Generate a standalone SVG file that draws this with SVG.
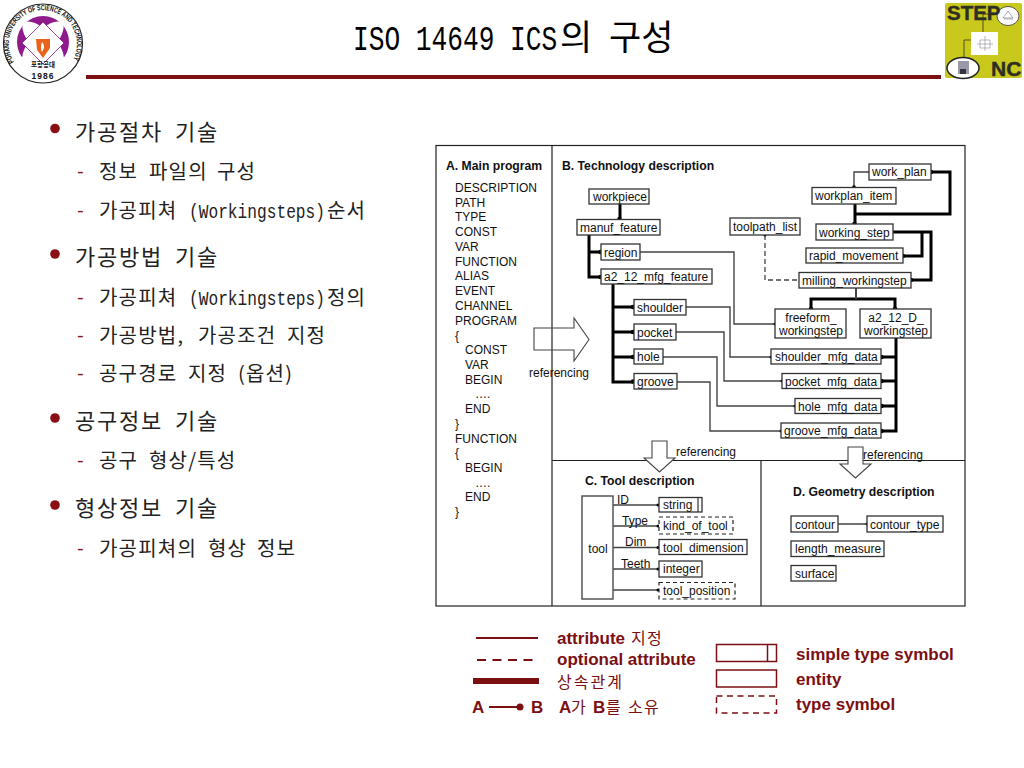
<svg xmlns="http://www.w3.org/2000/svg" xmlns:xlink="http://www.w3.org/1999/xlink" width="1024" height="768" viewBox="0 0 1024 768">
<style>
text{font-family:"Liberation Sans",Arial,sans-serif;fill:#111}
.b{fill:#fff;stroke:#333;stroke-width:1.3}
.d{fill:#fff;stroke:#222;stroke-width:1.2;stroke-dasharray:4 3}
.t{font-size:12px}
.h{font-size:12.2px;font-weight:bold}
.n{fill:none;stroke:#222;stroke-width:1.2}
.g{fill:none;stroke:#444;stroke-width:1.4}
.k{fill:none;stroke:#000;stroke-width:3}
.ds{fill:none;stroke:#444;stroke-width:1.3;stroke-dasharray:5 3}
.o{fill:#000}
.f{fill:none;stroke:#222;stroke-width:1.2}
.ar{fill:#fff;stroke:#444;stroke-width:1.1}
.l1{font-family:"Noto Sans CJK KR",sans-serif;font-size:22px;letter-spacing:1.76px;fill:#222}
.l2{font-family:"Noto Sans CJK KR",sans-serif;font-size:20px;letter-spacing:1.2px;fill:#222}
.m{font-family:"Liberation Mono",monospace;font-size:20px;fill:#222}
.dash{font-family:"Liberation Mono",monospace;font-size:18px;fill:#8a1a1a}
.r{fill:#7b0f12}
.lg{font-size:17px;font-weight:bold;fill:#7b0f12;font-family:"Liberation Sans","Noto Sans CJK KR",sans-serif}
.kr{font-family:"Noto Sans CJK KR",sans-serif;font-weight:normal;font-size:16px;letter-spacing:1.4px}
.ls{fill:#fff;stroke:#7b0f12;stroke-width:1.5}
</style>

<g id="logo-postech">
<circle cx="43" cy="43.500" r="39.500" fill="#fff" stroke="#222" stroke-width="1.200"/>
<circle cx="43" cy="42" r="26" fill="#8e1a8c"/>
<ellipse cx="43" cy="42" rx="27" ry="11" fill="#fff" transform="rotate(45 43 42)"/>
<ellipse cx="43" cy="42" rx="27" ry="11" fill="#fff" transform="rotate(-45 43 42)"/>
<path d="M43 42L18 60Q43 76 68 60Z" fill="#fff"/>
<path d="M43 22L64 43L43 64L22 43Z" fill="#fff" stroke="#8e1a8c" stroke-width="0.800"/>
<path d="M36 39H50V48L43 58L37 50Z" fill="#e8641c"/>
<path d="M42 42Q46 46 42 52Q40 47 42 42Z" fill="#fff"/>
<path id="lp" d="M14 62A34 34 0 1 1 73 60" fill="none"/>
<text font-size="7.500" font-weight="bold"><textPath xlink:href="#lp" href="#lp" textLength="141" lengthAdjust="spacingAndGlyphs">POHANG UNIVERSITY OF SCIENCE AND TECHNOLOGY</textPath></text>
<text x="43" y="67" font-size="6.500" font-weight="bold" text-anchor="middle" style="font-family:'Noto Sans CJK KR',sans-serif">포항공대</text>
<text x="43" y="79" font-size="8.500" font-weight="bold" text-anchor="middle" letter-spacing="1">1986</text>
</g>

<g id="logo-stepnc">
<rect x="945" y="3" width="77" height="75" rx="2" fill="#c9c81c"/>
<path d="M983 14H1000M983 14V32M971 40H964V58" fill="none" stroke="#55501a" stroke-width="1"/>
<ellipse cx="1008" cy="16" rx="11" ry="9.500" fill="#fff" stroke="#333" stroke-width="0.800"/>
<path d="M1003 18L1008 11L1013 18ZM1004 19H1013" fill="none" stroke="#889" stroke-width="0.700"/>
<rect x="971" y="32" width="27" height="23" fill="#fff"/>
<path d="M977 44H993M985 36V51M980 40H990V48H980Z" fill="none" stroke="#889" stroke-width="0.600"/>
<ellipse cx="963" cy="68" rx="16" ry="10.500" fill="#fff" stroke="#222" stroke-width="1.500"/>
<rect x="958" y="61" width="11" height="13" fill="#99a"/>
<rect x="960" y="69" width="6" height="5" fill="#334"/>
<text x="947" y="20" font-size="20.500" font-weight="bold" style="fill:#2e2e22;stroke:#2e2e22;stroke-width:0.400">STEP</text>
<text x="991" y="76" font-size="21" font-weight="bold" style="fill:#2e2e22;stroke:#2e2e22;stroke-width:0.400">NC</text>
</g>

<g id="title">
<rect x="86" y="75" width="855" height="4" class="r"/>
<text class="m" transform="translate(353 50) scale(.727 1)" style="font-size:36px;fill:#000">ISO 14649 ICS</text>
<text y="50" style="font-family:'Noto Sans CJK KR',sans-serif;font-size:35px;letter-spacing:0;fill:#000"><tspan x="560">의</tspan><tspan x="609">구성</tspan></text>
</g>

<g id="outline">
<circle cx="55" cy="128.500" r="4.800" fill="#8a0f14"/>
<text class="l1" y="140"><tspan x="75">가공절차</tspan><tspan x="175">기술</tspan></text>
<text class="dash" x="75" y="178">-</text>
<text class="l2" y="179"><tspan x="99">정보</tspan><tspan x="149">파일의</tspan><tspan x="217">구성</tspan></text>
<text class="dash" x="75" y="217">-</text>
<text class="l2" x="99" y="218">가공피쳐</text>
<text class="m" transform="translate(189 218) scale(.81 1)">(Workingsteps)</text>
<text class="l2" x="327" y="218">순서</text>
<circle cx="55" cy="254" r="4.800" fill="#8a0f14"/>
<text class="l1" y="265"><tspan x="75">가공방법</tspan><tspan x="175">기술</tspan></text>
<text class="dash" x="75" y="304">-</text>
<text class="l2" x="99" y="305">가공피쳐</text>
<text class="m" transform="translate(189 305) scale(.81 1)">(Workingsteps)</text>
<text class="l2" x="327" y="305">정의</text>
<text class="dash" x="75" y="342">-</text>
<text class="l2" y="343"><tspan x="99">가공방법,</tspan><tspan x="198">가공조건</tspan><tspan x="287">지정</tspan></text>
<text class="dash" x="75" y="380">-</text>
<text class="l2" y="381"><tspan x="99">공구경로</tspan><tspan x="188">지정</tspan><tspan x="238">(옵션)</tspan></text>
<circle cx="55" cy="418" r="4.800" fill="#8a0f14"/>
<text class="l1" y="429"><tspan x="75">공구정보</tspan><tspan x="175">기술</tspan></text>
<text class="dash" x="75" y="467">-</text>
<text class="l2" y="468"><tspan x="99">공구</tspan><tspan x="149">형상/특성</tspan></text>
<circle cx="55" cy="505" r="4.800" fill="#8a0f14"/>
<text class="l1" y="516"><tspan x="75">형상정보</tspan><tspan x="175">기술</tspan></text>
<text class="dash" x="75" y="555">-</text>
<text class="l2" y="556"><tspan x="99">가공피쳐의</tspan><tspan x="208">형상</tspan><tspan x="257">정보</tspan></text>
</g>

<g id="frame">
<rect x="436" y="145.500" width="529" height="460.500" class="f" fill="none"/>
<path d="M552 145.500V606M552 460.500H965M761 460.500V606" class="f"/>
</g>

<g id="section-a">
<text class="h" x="446" y="170">A. Main program</text>
<g class="t">
<text x="455" y="192">DESCRIPTION</text>
<text x="455" y="207">PATH</text>
<text x="455" y="221">TYPE</text>
<text x="455" y="236">CONST</text>
<text x="455" y="251">VAR</text>
<text x="455" y="266">FUNCTION</text>
<text x="455" y="280">ALIAS</text>
<text x="455" y="295">EVENT</text>
<text x="455" y="310">CHANNEL</text>
<text x="455" y="325">PROGRAM</text>
<text x="455" y="340">{</text>
<text x="465" y="354">CONST</text>
<text x="465" y="369">VAR</text>
<text x="465" y="384">BEGIN</text>
<text x="475" y="398">….</text>
<text x="465" y="413">END</text>
<text x="455" y="428">}</text>
<text x="455" y="443">FUNCTION</text>
<text x="455" y="457">{</text>
<text x="465" y="472">BEGIN</text>
<text x="475" y="487">….</text>
<text x="465" y="501">END</text>
<text x="455" y="516">}</text>
</g>
</g>

<text class="h" x="562" y="170">B. Technology description</text>
<text class="h" x="585" y="485">C. Tool description</text>
<text class="h" x="793" y="496">D. Geometry description</text>

<g id="connectors">
<path class="k" d="M620 204V218M589 235V277H600M589 252H600M613 284V382H633M613 307H633M613 332H633M613 357H633"/>
<path class="g" d="M640 252H734V324H775M686 307H730V357H771M676 332H724V381H782M663 357H717V406H795M677 382H710V431H781M869 172H854V187"/>
<path class="k" d="M931 172H950V214H855M855 204V223M893 232H931V280H911M922 232V256H903M811 309V299H895V309M896 338V431H881M896 357H881M896 381H881M896 406H881"/>
<path class="g" style="stroke-width:2" d="M856 288V299"/>
<path class="ds" d="M765 235V280H799"/>
<path class="g" d="M613 505H658M613 526H658M613 547.500H658M613 569H658M613 590H658M838 524H867"/>
<g class="o">
<circle cx="619.500" cy="219" r="2.300"/><circle cx="600.500" cy="252" r="2.300"/><circle cx="600.500" cy="277" r="2.300"/>
<circle cx="633" cy="307" r="2.300"/><circle cx="633" cy="332" r="2.300"/><circle cx="633" cy="357" r="2.300"/><circle cx="633" cy="381.500" r="2.300"/>
<circle cx="854" cy="187" r="1.800"/><circle cx="931" cy="172" r="2.300"/><circle cx="854.500" cy="224" r="2.300"/><circle cx="903" cy="256" r="2.300"/><circle cx="911" cy="280" r="2.300"/>
<circle cx="811" cy="309" r="2.300"/><circle cx="895" cy="309" r="2.300"/><circle cx="765" cy="235" r="1.500"/>
<circle cx="775" cy="324" r="1.500"/><circle cx="771" cy="357" r="1.500"/><circle cx="782" cy="381" r="1.500"/><circle cx="795" cy="406" r="1.500"/><circle cx="781" cy="431" r="1.500"/>
<circle cx="881.500" cy="357" r="2.300"/><circle cx="881.500" cy="381" r="2.300"/><circle cx="881.500" cy="406" r="2.300"/><circle cx="881.500" cy="431" r="2.300"/>
<circle cx="658" cy="505" r="1.500"/><circle cx="658" cy="526" r="1.500"/><circle cx="658" cy="547.500" r="1.500"/><circle cx="658" cy="569" r="1.500"/><circle cx="658" cy="590" r="1.500"/><circle cx="867" cy="524" r="1.500"/>
</g>
</g>

<g id="arrows">
<path class="ar" d="M534 328H574V318L589 339.500L574 361V350H534Z" style="fill:none"/>
<path class="ar" d="M652 441H667V458H675L659.500 472L644 458H652Z"/>
<path class="ar" d="M848 447H863V464H871L855.500 478L840 464H848Z"/>
<text class="t" x="529" y="377">referencing</text>
<text class="t" x="676" y="456">referencing</text>
<text class="t" x="863" y="459">referencing</text>
</g>

<g id="workpiece"><rect class="b" x="589" y="189" width="60" height="15"/><text class="t" x="593" y="201">workpiece</text></g>
<g id="manuf_feature"><rect class="b" x="577" y="219.500" width="83" height="15.500"/><text class="t" x="580" y="232">manuf_feature</text></g>
<g id="region"><rect class="b" x="601" y="244" width="39" height="16"/><text class="t" x="604" y="257">region</text></g>
<g id="a2_12_mfg_feature"><rect class="b" x="601" y="269" width="111" height="15"/><text class="t" x="604" y="281">a2_12_mfg_feature</text></g>
<g id="toolpath_list"><rect class="b" x="730" y="218" width="70" height="17"/><text class="t" x="733" y="231">toolpath_list</text></g>
<g id="work_plan"><rect class="b" x="869" y="164" width="62" height="16"/><text class="t" x="872" y="176">work_plan</text></g>
<g id="workplan_item"><rect class="b" x="812" y="187.500" width="84" height="16.500"/><text class="t" x="815" y="200">workplan_item</text></g>
<g id="working_step"><rect class="b" x="816" y="224" width="77" height="16"/><text class="t" x="819" y="237">working_step</text></g>
<g id="rapid_movement"><rect class="b" x="806" y="248" width="97" height="15"/><text class="t" x="809" y="260">rapid_movement</text></g>
<g id="milling_workingstep"><rect class="b" x="799" y="272.500" width="112" height="15.500"/><text class="t" x="802" y="285">milling_workingstep</text></g>
<g id="shoulder"><rect class="b" x="634" y="299.500" width="52" height="15.500"/><text class="t" x="637" y="312">shoulder</text></g>
<g id="pocket"><rect class="b" x="634" y="324" width="42" height="16"/><text class="t" x="637" y="337">pocket</text></g>
<g id="hole"><rect class="b" x="634" y="349" width="29" height="15"/><text class="t" x="637" y="361">hole</text></g>
<g id="groove"><rect class="b" x="634" y="373.500" width="43" height="15.500"/><text class="t" x="637" y="386">groove</text></g>
<g id="freeform_workingstep"><rect class="b" x="775" y="309" width="71" height="29"/><text class="t" text-anchor="middle" x="811" y="322">freeform_</text><text class="t" text-anchor="middle" x="811" y="335">workingstep</text></g>
<g id="a2_12_D_workingstep"><rect class="b" x="860" y="309" width="71" height="29"/><text class="t" text-anchor="middle" x="896" y="322">a2_12_D_</text><text class="t" text-anchor="middle" x="896" y="335">workingstep</text></g>
<g id="shoulder_mfg_data"><rect class="b" x="771" y="349" width="110" height="15"/><text class="t" x="775" y="361">shoulder_mfg_data</text></g>
<g id="pocket_mfg_data"><rect class="b" x="782" y="373.500" width="99" height="15"/><text class="t" x="785" y="386">pocket_mfg_data</text></g>
<g id="hole_mfg_data"><rect class="b" x="795" y="398.500" width="86" height="15"/><text class="t" x="798" y="411">hole_mfg_data</text></g>
<g id="groove_mfg_data"><rect class="b" x="781" y="423" width="100" height="15"/><text class="t" x="784" y="435">groove_mfg_data</text></g>

<g id="tool"><rect class="b" style="stroke:#555;stroke-width:1.500" x="582" y="496" width="31" height="103"/><text class="t" text-anchor="middle" x="598" y="553">tool</text></g>
<g id="label-id"><text class="t" x="617" y="504">ID</text></g>
<g id="label-type"><text class="t" x="622" y="525">Type</text></g>
<g id="label-dim"><text class="t" x="625" y="546">Dim</text></g>
<g id="label-teeth"><text class="t" x="621" y="568">Teeth</text></g>
<g id="string"><rect class="b" x="659" y="497.500" width="43" height="14.500"/><path d="M698 498V512" stroke="#333" stroke-width="1.200"/><text class="t" x="663" y="509">string</text></g>
<g id="kind_of_tool"><rect class="d" x="659" y="517" width="74" height="17"/><text class="t" x="663" y="530">kind_of_tool</text></g>
<g id="tool_dimension"><rect class="b" x="659" y="539.500" width="88" height="15"/><text class="t" x="663" y="552">tool_dimension</text></g>
<g id="integer"><rect class="b" x="659" y="561" width="43" height="16"/><text class="t" x="663" y="573">integer</text></g>
<g id="tool_position"><rect class="d" x="659" y="582.500" width="76" height="16.500"/><text class="t" x="663" y="595">tool_position</text></g>

<g id="contour"><rect class="b" x="791" y="516" width="47" height="16"/><text class="t" x="795" y="529">contour</text></g>
<g id="contour_type"><rect class="b" x="867" y="516" width="76" height="16"/><text class="t" x="870" y="529">contour_type</text></g>
<g id="length_measure"><rect class="b" x="791" y="541" width="93" height="15.500"/><text class="t" x="795" y="553">length_measure</text></g>
<g id="surface"><rect class="b" x="791" y="565.500" width="45" height="15.500"/><text class="t" x="795" y="578">surface</text></g>

<g id="legend">
<path d="M476 638H538" stroke="#7b0f12" stroke-width="2"/>
<path d="M477 660H533" stroke="#7b0f12" stroke-width="2" stroke-dasharray="9 6.500"/>
<path d="M473 681H539" stroke="#7b0f12" stroke-width="6"/>
<text class="lg" x="557" y="644">attribute<tspan class="kr" x="631">지정</tspan></text>
<text class="lg" x="557" y="665">optional attribute</text>
<text class="lg kr" x="557" y="688" style="letter-spacing:2px">상속관계</text>
<text class="lg" x="472" y="713">A</text>
<path d="M489 707H518" stroke="#7b0f12" stroke-width="2"/>
<circle cx="520" cy="707" r="3.500" class="r"/>
<text class="lg" x="531" y="713">B</text>
<text class="lg" x="559" y="713">A<tspan class="kr" x="571">가</tspan><tspan x="593">B</tspan><tspan class="kr" x="606">를</tspan><tspan class="kr" x="628">소유</tspan></text>
<rect class="ls" x="716.500" y="644.500" width="60" height="17"/>
<path d="M767.500 644.500V661.500" stroke="#7b0f12" stroke-width="1.500"/>
<rect class="ls" x="716.500" y="670" width="60" height="17"/>
<rect class="ls" x="716.500" y="696" width="60" height="17" stroke-dasharray="6 4.500"/>
<text class="lg" x="796" y="660">simple type symbol</text>
<text class="lg" x="796" y="685">entity</text>
<text class="lg" x="796" y="710">type symbol</text>
</g>
</svg>
